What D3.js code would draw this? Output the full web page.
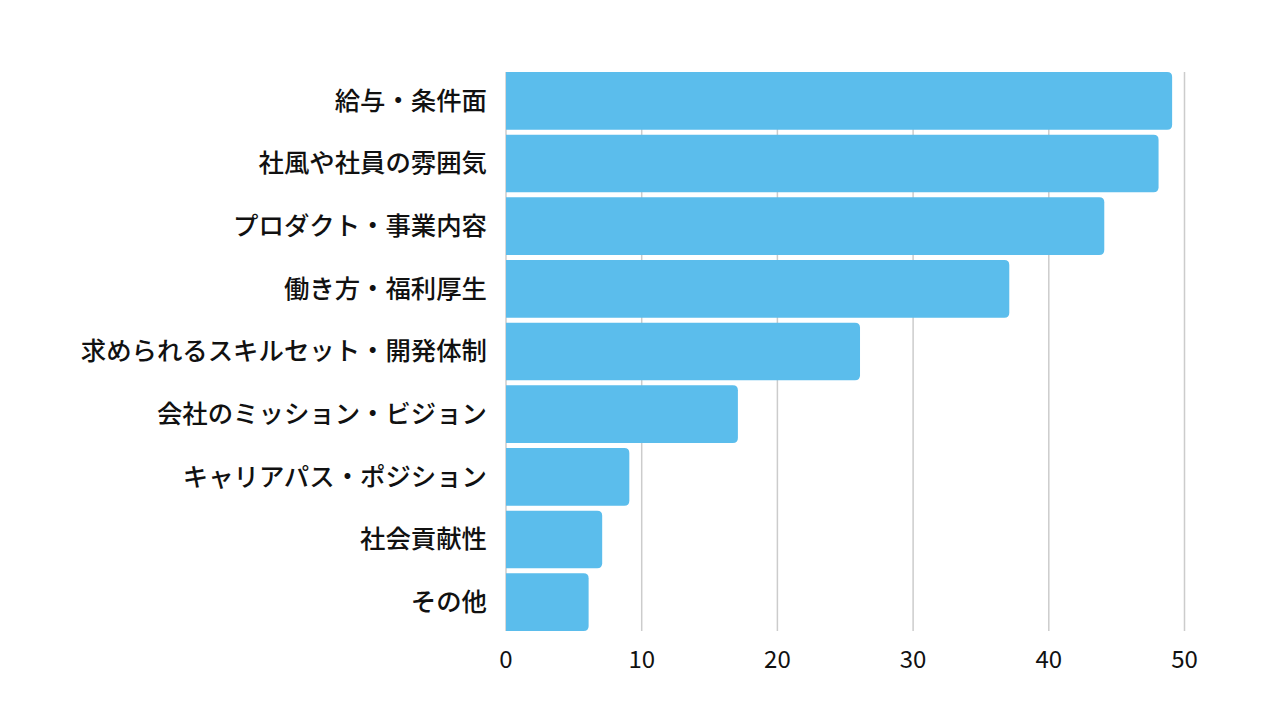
<!DOCTYPE html>
<html><head><meta charset="utf-8">
<script src="https://cdn.jsdelivr.net/npm/d3@7"></script>
<style>body{margin:0;background:#fff;} text{font-family:"Noto Sans CJK JP","Noto Sans",sans-serif;}</style>
</head><body>
<svg id="c" width="1280" height="720"></svg>
<script>
const categories = ["給与・条件面","社風や社員の雰囲気","プロダクト・事業内容","働き方・福利厚生","求められるスキルセット・開発体制","会社のミッション・ビジョン","キャリアパス・ポジション","社会貢献性","その他"];
const values = [49,48,44,37,26,17,9,7,6];
const tickValues = [0,10,20,30,40,50];

const svg = d3.select("#c");
const x = d3.scaleLinear().domain([0,50]).range([506,1184.5]);
const y = d3.scaleBand().domain(categories).range([69.5,633.5]).paddingInner(0.0798).paddingOuter(0.0399);
const gridTop = 72, gridBottom = 631;

svg.append("g").selectAll("line").data(tickValues).join("line")
  .attr("x1",d=>x(d)).attr("x2",d=>x(d)).attr("y1",gridTop).attr("y2",gridBottom)
  .attr("stroke","#cccccc").attr("stroke-width",1.5);

const r = 5, ext = 1.2;
svg.append("g").selectAll("path").data(values).join("path")
  .attr("fill","#5BBDEC")
  .attr("d",(d,i)=>{
    const x0 = x(0), x1 = x(d)+ext, y0 = y(categories[i]), h = y.bandwidth();
    return `M${x0},${y0}H${x1-r}Q${x1},${y0} ${x1},${y0+r}V${y0+h-r}Q${x1},${y0+h} ${x1-r},${y0+h}H${x0}Z`;
  });

svg.append("g").selectAll("text").data(categories).join("text")
  .attr("x",487).attr("y",d=>y(d)+y.bandwidth()/2).attr("dy","0.35em")
  .attr("text-anchor","end").attr("font-size",25.4).attr("font-weight",500).attr("fill","#111")
  .text(d=>d);

svg.append("g").selectAll("text").data(tickValues).join("text")
  .attr("x",d=>x(d)).attr("y",668).attr("text-anchor","middle")
  .attr("font-size",24).attr("fill","#111").text(d=>d);
</script>
</body></html>
